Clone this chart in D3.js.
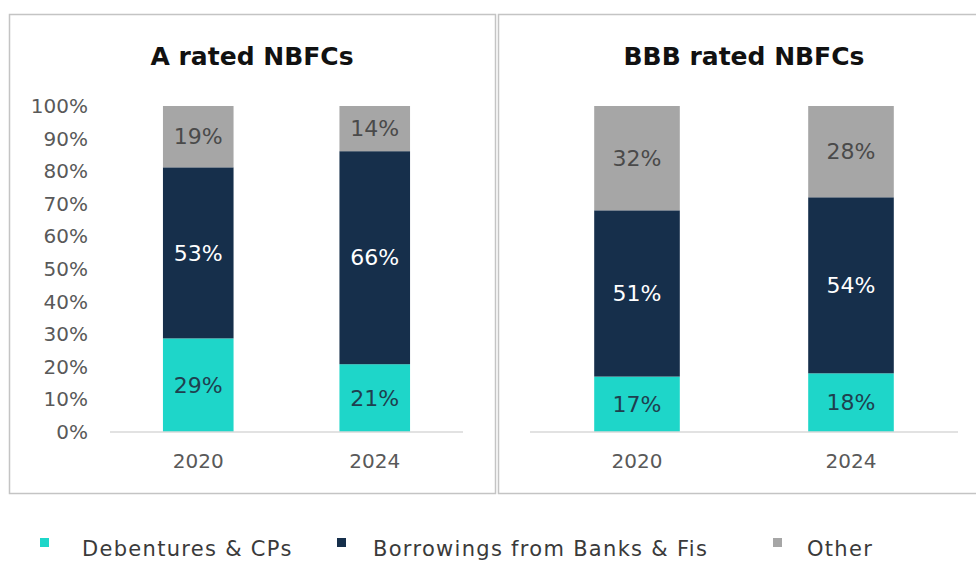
<!DOCTYPE html>
<html>
<head>
<meta charset="utf-8">
<script src="https://cdn.jsdelivr.net/npm/d3@7"></script>
<style>
  body { margin: 0; background: #fff; }
  svg { display: block; }
</style>
</head>
<body>
<div id="chart"></div>
<script>
const years = ["2020", "2024"];
const seriesNames = ["Debentures & CPs", "Borrowings from Banks & Fis", "Other"];
const seriesColors = ["#1ed6c9", "#162f4b", "#a6a6a6"];
const labelColors = ["#1f3f4f", "#ffffff", "#4a4a4a"];

// values per year: [Debentures, Borrowings, Other]
const aRated = [[29, 53, 19], [21, 66, 14]];
const bbbRated = [[17, 51, 32], [18, 54, 28]];
const yTicks = [0, 10, 20, 30, 40, 50, 60, 70, 80, 90, 100];

const width = 976;
const height = 563;

const svg = d3.select("#chart")
  .append("svg")
  .attr("width", width)
  .attr("height", height);

const panels = [
  { title: "A rated NBFCs", data: aRated, box: [9.5, 14.5, 486, 479], x0: 110, x1: 463, titleX: 252, axis: true },
  { title: "BBB rated NBFCs", data: bbbRated, box: [498.5, 14.5, 490, 479], x0: 530, x1: 958, titleX: 744, axis: false }
];

const y = d3.scaleLinear().domain([0, 100]).range([432, 106]);

panels.forEach((p) => {
  const g = svg.append("g");

  g.append("rect")
    .attr("x", p.box[0])
    .attr("y", p.box[1])
    .attr("width", p.box[2])
    .attr("height", p.box[3])
    .attr("fill", "none")
    .attr("stroke", "#c4c4c4")
    .attr("stroke-width", 1.5);

  g.append("text")
    .attr("x", p.titleX)
    .attr("y", 65)
    .attr("text-anchor", "middle")
    .attr("font-family", "DejaVu Sans, sans-serif")
    .attr("font-weight", "bold")
    .attr("font-size", 25)
    .attr("fill", "#111")
    .text(p.title);

  const x = d3.scaleBand().domain(years).range([p.x0, p.x1]).paddingInner(0.6).paddingOuter(0.3);

  // normalise each bar to 100%
  const rows = p.data.map((vals, i) => {
    const total = d3.sum(vals);
    const row = { year: years[i] };
    vals.forEach((v, j) => { row["s" + j] = v / total * 100; row["v" + j] = v; });
    return row;
  });
  const layers = d3.stack().keys(["s0", "s1", "s2"])(rows);

  layers.forEach((layer, j) => {
    g.selectAll(null)
      .data(layer)
      .join("rect")
      .attr("x", (d) => x(d.data.year))
      .attr("width", x.bandwidth())
      .attr("y", (d) => y(d[1]))
      .attr("height", (d) => y(d[0]) - y(d[1]))
      .attr("fill", seriesColors[j]);

    g.selectAll(null)
      .data(layer)
      .join("text")
      .attr("x", (d) => x(d.data.year) + x.bandwidth() / 2)
      .attr("y", (d) => y((d[0] + d[1]) / 2))
      .attr("dy", "0.35em")
      .attr("text-anchor", "middle")
      .attr("font-family", "DejaVu Sans, sans-serif")
      .attr("font-size", 22)
      .attr("fill", labelColors[j])
      .text((d) => d.data["v" + j] + "%");
  });

  // baseline
  g.append("line")
    .attr("x1", p.x0)
    .attr("x2", p.x1)
    .attr("y1", y(0))
    .attr("y2", y(0))
    .attr("stroke", "#d9d9d9")
    .attr("stroke-width", 1.5);

  const xAxis = g.append("g")
    .attr("transform", `translate(0,${y(0)})`)
    .call(d3.axisBottom(x).tickSize(0).tickPadding(22));
  xAxis.select(".domain").remove();
  xAxis.selectAll("text")
    .attr("font-family", "DejaVu Sans, sans-serif")
    .attr("font-size", 20)
    .attr("fill", "#595959");

  if (p.axis) {
    const yAxis = g.append("g")
      .attr("transform", "translate(88,0)")
      .call(d3.axisLeft(y).tickValues(yTicks).tickSize(0).tickPadding(0).tickFormat((d) => d + "%"));
    yAxis.select(".domain").remove();
    yAxis.selectAll("text")
      .attr("font-family", "DejaVu Sans, sans-serif")
      .attr("font-size", 20)
      .attr("fill", "#595959");
  }
});

// legend
const legendSquareX = [40, 337, 773];
const legendTextX = [82, 373, 807];
const legend = svg.append("g");
seriesNames.forEach((name, i) => {
  legend.append("rect")
    .attr("x", legendSquareX[i])
    .attr("y", 538)
    .attr("width", 9)
    .attr("height", 9)
    .attr("fill", seriesColors[i]);
  legend.append("text")
    .attr("x", legendTextX[i])
    .attr("y", 556)
    .attr("font-family", "DejaVu Sans, sans-serif")
    .attr("font-size", 21)
    .attr("letter-spacing", "1.3px")
    .attr("fill", "#3a3a3a")
    .text(name);
});
</script>
</body>
</html>
